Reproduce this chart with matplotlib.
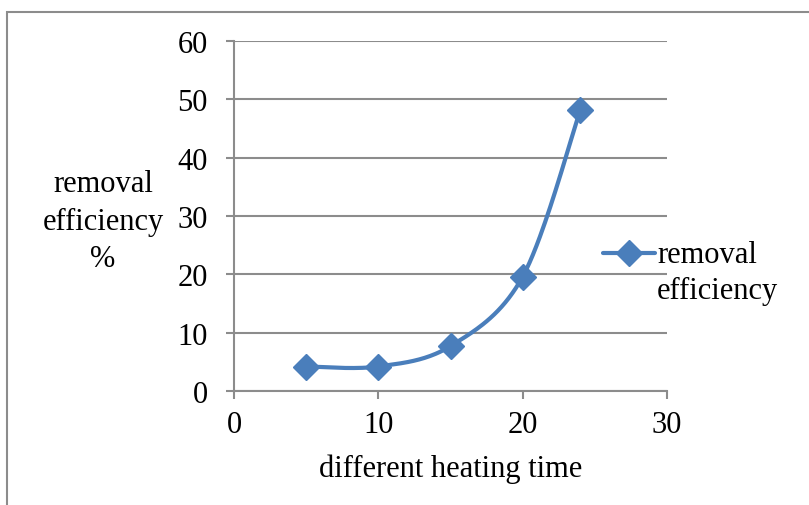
import numpy as np
import matplotlib.pyplot as plt
from matplotlib.lines import Line2D
from matplotlib.patches import Rectangle

# heating time vs removal efficiency
heating_time = [5, 10, 15, 20, 24]
removal_eff = [4.2, 4.2, 7.7, 19.6, 48.2]
x_ticks = [0, 10, 20, 30]
y_ticks = [0, 10, 20, 30, 40, 50, 60]
series_name = 'removal\nefficiency'


def smooth_curve(xs, ys, n=40):
    # Catmull-Rom style smoothing, like a spreadsheet "smoothed line"
    px = np.array(xs, float)
    py = np.array(ys, float)
    px = np.concatenate([[px[0]], px, [px[-1]]])
    py = np.concatenate([[py[0]], py, [py[-1]]])
    out_x, out_y = [], []
    for i in range(1, len(px) - 2):
        p0, p1, p2, p3 = (np.array([px[j], py[j]]) for j in (i - 1, i, i + 1, i + 2))
        c1 = p1 + (p2 - p0) / 6.0
        c2 = p2 - (p3 - p1) / 6.0
        t = np.linspace(0, 1, n)[:, None]
        pts = ((1 - t) ** 3) * p1 + 3 * ((1 - t) ** 2) * t * c1 + 3 * (1 - t) * t ** 2 * c2 + t ** 3 * p2
        out_x.extend(pts[:, 0])
        out_y.extend(pts[:, 1])
    return out_x, out_y


plt.rcParams['font.family'] = ['Liberation Serif', 'DejaVu Serif']
FS = 22

fig = plt.figure(figsize=(8.09, 5.06), dpi=100)
ax = fig.add_axes([234 / 809, 1 - 392 / 506, 433 / 809, 350 / 506])

blue = '#4A7EBB'
grid_c = '#8C8C8C'

sx, sy = smooth_curve(heating_time, removal_eff)
ax.plot(sx, sy, color=blue, lw=3, solid_capstyle='round', zorder=3)
ax.plot(heating_time, removal_eff, ls='none', marker='D', ms=13, color=blue, zorder=4)

ax.set_xlim(0, 30)
ax.set_ylim(0, 60)
ax.set_xticks(x_ticks)
ax.set_yticks(y_ticks)
ax.yaxis.grid(True, color=grid_c, lw=1.5)
ax.set_axisbelow(True)
for s in ['top', 'right']:
    ax.spines[s].set_visible(False)
for s in ['left', 'bottom']:
    ax.spines[s].set_color(grid_c)
    ax.spines[s].set_linewidth(1.5)
ax.tick_params(axis='both', colors=grid_c, labelcolor='black', labelsize=FS,
               length=6, width=1.5)
ax.tick_params(axis='y', pad=13)
ax.tick_params(axis='x', pad=8)

ax.set_xlabel('different heating time', fontsize=FS, labelpad=10)
fig.text(103 / 809, 1 - 222 / 506, 'removal\nefficiency\n%', fontsize=FS,
         ha='center', va='center', linespacing=1.38)

# legend: key sits beside the first line of the wrapped series name
key_y = 1 - 254 / 506
fig.add_artist(Line2D([603 / 809, 655 / 809], [key_y, key_y], color=blue, lw=3,
                      solid_capstyle='round', transform=fig.transFigure))
fig.add_artist(Line2D([629 / 809], [key_y], ls='none', marker='D', ms=13,
                      color=blue, transform=fig.transFigure))
fig.text(657 / 809, 1 - 241 / 506, series_name, fontsize=FS, ha='left',
         va='top', linespacing=1.3)

# outer chart border
fig.patches.append(Rectangle((7 / 809, -0.1), 1.2, 1 - 12.5 / 506 + 0.1,
                             transform=fig.transFigure, fill=False,
                             edgecolor=grid_c, lw=1.5))

fig.savefig('out.png', dpi=100)
